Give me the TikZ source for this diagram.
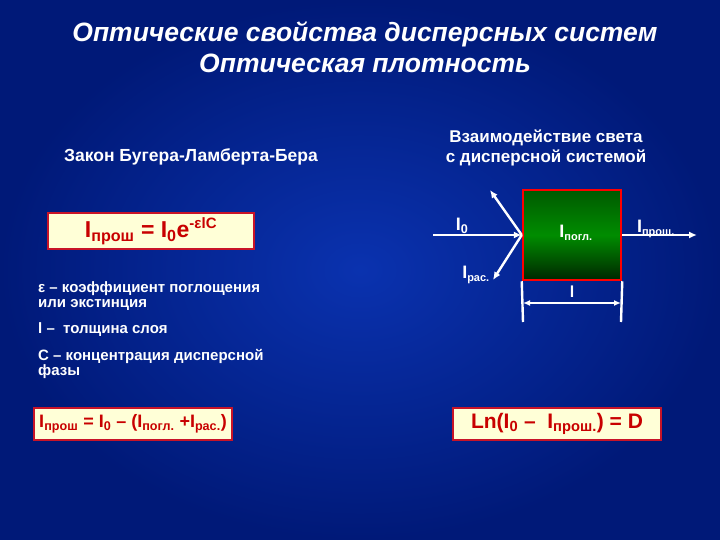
\documentclass[tikz,border=0pt]{standalone}
\usepackage{fontspec}
\setmainfont{Liberation Sans}
\usetikzlibrary{arrows.meta}
\begin{document}
\begin{tikzpicture}[x=1pt,y=-1pt,
 wt/.style={text=white,font=\bfseries\fontsize{15}{15}\selectfont,inner sep=0},
 fbox/.style={draw={rgb,255:red,200;green,20;blue,40},line width=2.5pt,fill={rgb,255:red,255;green,255;blue,215},text={rgb,255:red,200;green,0;blue,0},font=\bfseries\fontsize{23}{26}\selectfont},
 ln/.style={white,line width=2.4pt},
 arr/.style={ln,-{Latex[length=8pt,width=7pt]}}]
\useasboundingbox (0,0) rectangle (720,540);
\shade[inner color={rgb,255:red,10;green,50;blue,175},outer color={rgb,255:red,0;green,25;blue,120}] (0,0) rectangle (720,540);
\node[text=white,font=\bfseries\itshape\fontsize{26.5}{31}\selectfont,align=center] (title) at (365,47) {Оптические свойства дисперсных систем\\Оптическая плотность};
\node[wt,font=\bfseries\fontsize{17.5}{20}\selectfont] (law) at (191,157) {Закон Бугера-Ламберта-Бера};
\node[fbox,minimum width=206,minimum height=36] (f1) at (151,231) {I\textsubscript{прош} = I\textsubscript{0}e\textsuperscript{\fontsize{15}{15}\selectfont -εlC}};
\node[wt,anchor=north west,align=left,font=\bfseries\fontsize{15}{15}\selectfont] (eps) at (38,281) {ε – коэффициент поглощения\\или экстинция};
\node[wt,anchor=west] (l) at (38,330) {l –\ \ толщина слоя};
\node[wt,anchor=north west,align=left,font=\bfseries\fontsize{15}{15}\selectfont] (c) at (38,349) {С – концентрация дисперсной\\фазы};
\node[fbox,minimum width=198,minimum height=32,inner xsep=2pt,font=\bfseries\fontsize{18}{22}\selectfont] (f2) at (133,424) {I\textsubscript{прош} = I\textsubscript{0} – (I\textsubscript{погл.} +I\textsubscript{рас.})};
\node[fbox,minimum width=208,minimum height=32,font=\bfseries\fontsize{21}{22}\selectfont] (f3) at (557,424) {Ln(I\textsubscript{0} –\ \ I\textsubscript{прош.}) = D};
\node[wt,font=\bfseries\fontsize{17}{20}\selectfont,align=center] (inter) at (546,148) {Взаимодействие света\\с дисперсной системой};
\node[draw=red,line width=2.5pt,minimum width=98,minimum height=90,inner sep=0,
 top color=green!35!black,bottom color=green!15!black,middle color=green!55!black] (g) at (572,235) {};
\coordinate (in) at (433,235);
\coordinate (out) at (697,235);
\coordinate (s1) at (490,190);
\coordinate (s2) at (493,280);
\draw[arr] (in) -- (g.west);
\draw[arr] (g.west) -- (s1);
\draw[arr] (g.west) -- (s2);
\draw[arr] (g.east) -- (out);
\node[wt,font=\bfseries\fontsize{18}{18}\selectfont] (l0) at (462,226) {I\textsubscript{0}};
\node[wt,font=\bfseries\fontsize{18}{18}\selectfont] (lp) at (576,233) {I\textsubscript{\fontsize{11}{11}\selectfont погл.}};
\node[wt,font=\bfseries\fontsize{18}{18}\selectfont] (lo) at (656,229) {I\textsubscript{\fontsize{11}{11}\selectfont прош.}};
\node[wt,font=\bfseries\fontsize{18}{18}\selectfont] (lr) at (476,275) {I\textsubscript{\fontsize{11}{11}\selectfont рас.}};
\coordinate (d1) at (523,322);
\coordinate (d2) at (621,322);
\coordinate (a1) at (523,303);
\coordinate (a2) at (621,303);
\draw[ln] (g.south west) -- (d1);
\draw[ln] (g.south east) -- (d2);
\draw[ln,{Latex[length=7pt,width=6pt]}-{Latex[length=7pt,width=6pt]}] (a1) -- (a2);
\node[wt,font=\bfseries\fontsize{16}{16}\selectfont] (ll) at (572,292) {l};
\end{tikzpicture}
\end{document}
